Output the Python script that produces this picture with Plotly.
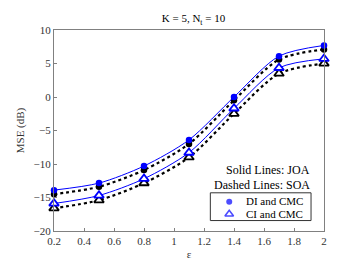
import plotly.graph_objects as go

eps = [0.2, 0.5, 0.8, 1.1, 1.4, 1.7, 2.0]
di_joa = [-13.9, -12.85, -10.3, -6.4, 0.0, 6.1, 7.7]
di_soa = [-14.5, -13.4, -10.9, -7.0, -0.5, 5.6, 7.1]
ci_joa = [-15.9, -14.7, -12.2, -8.3, -1.7, 4.35, 5.7]
ci_soa = [-16.6, -15.4, -12.85, -9.0, -2.5, 3.5, 5.0]

x_ticks = [0.2, 0.4, 0.6, 0.8, 1.0, 1.2, 1.4, 1.6, 1.8, 2.0]
x_labels = ["0.2", "0.4", "0.6", "0.8", "1", "1.2", "1.4", "1.6", "1.8", "2"]
y_ticks = [-20, -15, -10, -5, 0, 5, 10]
legend_names = ["DI and CMC", "CI and CMC"]

FONT = "Liberation Serif"
BLUE = "#0000ff"

fig = go.Figure()

def add(y, color, dash, symbol, width, msize, filled):
    fig.add_trace(go.Scatter(
        x=eps, y=y, mode="lines+markers",
        line=dict(color=color, width=width, dash=dash, shape="spline", smoothing=0.8),
        marker=dict(symbol=symbol, size=msize,
                    color=color if filled else "white",
                    line=dict(color=color, width=0 if filled else 1.8)),
        showlegend=False, cliponaxis=False))

add(di_soa, "black", "dot", "circle", 2.2, 6.5, True)
add(ci_soa, "black", "dot", "triangle-up", 2.2, 8.5, False)
add(di_joa, BLUE, "solid", "circle", 1, 6.5, True)
add(ci_joa, BLUE, "solid", "triangle-up", 1, 8.5, False)

# custom legend markers on an overlay paper-like axis
fig.add_trace(go.Scatter(x=[0.649, 0.649], y=[0.145, 0.084], mode="markers",
                         xaxis="x2", yaxis="y2", showlegend=False, hoverinfo="skip",
                         marker=dict(symbol=["circle", "triangle-up"], size=[6, 7.5],
                                     color=[BLUE, "white"],
                                     line=dict(color=BLUE, width=[0, 1.6]))))

axis_common = dict(showline=True, linecolor="#808080", linewidth=1, mirror=True,
                   ticks="inside", ticklen=3, tickcolor="#808080", showgrid=False,
                   zeroline=False, tickfont=dict(family=FONT, size=11, color="#333333"))

fig.update_xaxes(range=[0.2, 2.0], tickvals=x_ticks, ticktext=x_labels,
                 title=dict(text="ε", font=dict(family=FONT, size=11, color="#333333"),
                            standoff=4),
                 **axis_common)
fig.update_yaxes(range=[-20, 10], tickvals=y_ticks,
                 title=dict(text="MSE (dB)", font=dict(family=FONT, size=11, color="#333333"),
                            standoff=6),
                 **axis_common)

fig.update_layout(
    xaxis2=dict(overlaying="x", range=[0, 1], visible=False, fixedrange=True),
    yaxis2=dict(overlaying="y", range=[0, 1], visible=False, fixedrange=True),
    width=350, height=263,
    margin=dict(l=45, r=34, t=22, b=30),
    paper_bgcolor="white", plot_bgcolor="white",
    title=dict(text="K = 5, N<sub>t</sub> = 10", x=0.53, xanchor="center",
               y=0.975, yanchor="top",
               font=dict(family=FONT, size=11, color="black")),
    font=dict(family=FONT, size=11, color="black"),
    showlegend=False,
    shapes=[dict(type="rect", xref="paper", yref="paper", x0=0.579, x1=0.952,
                 y0=0.052, y1=0.19, line=dict(color="#333333", width=1),
                 fillcolor="white", layer="below")],
    annotations=[
        dict(text="Solid Lines: JOA", xref="paper", yref="paper", x=0.955, y=0.302,
             xanchor="right", yanchor="middle", showarrow=False,
             font=dict(family=FONT, size=12, color="black")),
        dict(text="Dashed Lines: SOA", xref="paper", yref="paper", x=0.955, y=0.231,
             xanchor="right", yanchor="middle", showarrow=False,
             font=dict(family=FONT, size=12, color="black")),
        dict(text=legend_names[0], xref="paper", yref="paper", x=0.705, y=0.147,
             xanchor="left", yanchor="middle", showarrow=False,
             font=dict(family=FONT, size=11, color="black")),
        dict(text=legend_names[1], xref="paper", yref="paper", x=0.705, y=0.087,
             xanchor="left", yanchor="middle", showarrow=False,
             font=dict(family=FONT, size=11, color="black")),
    ],
)

fig.write_html("out.html")
